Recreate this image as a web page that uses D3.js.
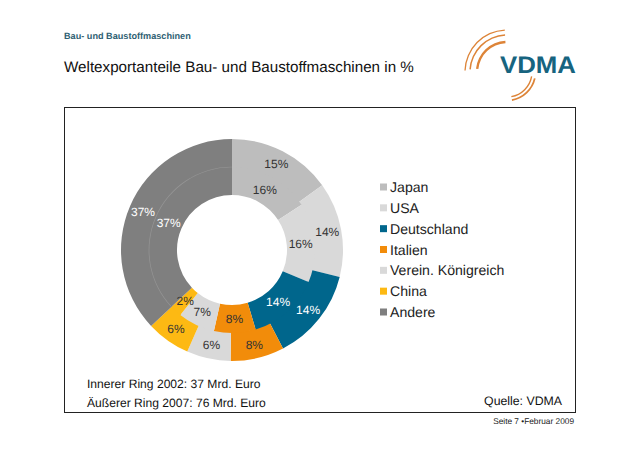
<!DOCTYPE html>
<meta charset="utf-8">
<style>
body {margin: 0; background: #fff; font-family: 'Liberation Sans', Arial, sans-serif;}
text {font-family: 'Liberation Sans', Arial, sans-serif; text-rendering: geometricPrecision;}
</style>
<body>
<svg class="chart"></svg>
</body>
<script src="https://d3js.org/d3.v7.min.js"></script>
<script>
// Data
const categories = ['Japan', 'USA', 'Deutschland', 'Italien', 'Verein. Königreich', 'China', 'Andere'];
const outer2007 = [15.1, 13.8, 13.5, 7.8, 6.4, 6.4, 37.0];
const inner2002 = [15.8, 15.5, 14.1, 8.1, 7.2, 2.3, 37.0];
const colorCode = ['#bdbdbd', '#d9d9d9', '#00668c', '#f28c0a', '#d9d9d9', '#fdb913', '#7f7f7f'];
const labelColor = ['#333', '#333', '#fff', '#333', '#333', '#333', '#fff'];

const rwidth = 640, rheight = 452;
const cx = 232, cy = 250;
const rHole = 55, rMid = 83, rOuter = 111;

const svg = d3.select('.chart').attr('width', rwidth).attr('height', rheight).style('display', 'block');

const color = d3.scaleOrdinal().domain(categories).range(colorCode);
const textColor = d3.scaleOrdinal().domain(categories).range(labelColor);

// header
svg.append('text').attr('x', 64).attr('y', 39).attr('font-size', 9.15).attr('font-weight', 'bold')
  .attr('fill', '#2f5f73').text('Bau- und Baustoffmaschinen');
svg.append('text').attr('x', 64).attr('y', 72).attr('font-size', 15.2).attr('fill', '#111')
  .text('Weltexportanteile Bau- und Baustoffmaschinen in %');

// logo
const logo = svg.append('g').attr('transform', 'translate(507,72)');
const logoArcs = [
  {r: 42, a0: -88, a1: -3, w: 1.3},
  {r: 37, a0: -86, a1: -3, w: 1.5},
  {r: 30, a0: -84, a1: -3, w: 2.4},
  {r: 28.5, a0: 103, a1: 170, w: 1.8},
  {r: 25, a0: 100, a1: 170, w: 1.4}
];
const logoArc = d3.arc();
logo.selectAll('path').data(logoArcs).join('path')
  .attr('fill', '#dd8438')
  .attr('d', d => logoArc({
    innerRadius: d.r - d.w / 2, outerRadius: d.r + d.w / 2,
    startAngle: d.a0 * Math.PI / 180, endAngle: d.a1 * Math.PI / 180
  }));
svg.append('text').attr('x', 500).attr('y', 73).attr('font-size', 24).attr('font-weight', 'bold')
  .attr('fill', '#17647f').attr('textLength', 76).attr('lengthAdjust', 'spacingAndGlyphs').text('VDMA');

// frame
svg.append('rect').attr('x', 64.5).attr('y', 107.5).attr('width', 511).attr('height', 305)
  .attr('fill', 'none').attr('stroke', '#222').attr('stroke-width', 1);

// rings
const pie = d3.pie().sort(null).value(d => d.value);
const ring = svg.append('g').attr('transform', `translate(${cx},${cy})`);
const slices = ring.append('g');
const labels = ring.append('g');

function drawRing(values, r0, r1, rLabel0, rLabel1) {
  const arcs = pie(values.map((v, i) => ({name: categories[i], value: v})));
  const arc = d3.arc().innerRadius(r0).outerRadius(r1);
  const labelArc = d3.arc().innerRadius(rLabel0).outerRadius(rLabel1);
  slices.append('g').selectAll('path').data(arcs).join('path')
    .attr('d', arc)
    .attr('fill', d => color(d.data.name));
  labels.append('g').selectAll('text').data(arcs).join('text')
    .attr('transform', d => `translate(${labelArc.centroid(d)})`)
    .attr('text-anchor', 'middle')
    .attr('dy', '.35em')
    .attr('font-size', 12)
    .attr('fill', d => textColor(d.data.name))
    .text(d => Math.round(d.data.value) + '%');
  return arcs;
}

// outer ring runs a little under the inner one so no light seam shows
drawRing(outer2007, rMid - 1, rOuter, rMid, rOuter);
const innerArcs = drawRing(inner2002, rHole, rMid, rHole, rMid);

// the reference only shows a faint line on the grey slice
const seam = innerArcs[innerArcs.length - 1];
slices.append('path')
  .attr('d', d3.arc().innerRadius(rMid - 0.35).outerRadius(rMid + 0.35)(seam))
  .attr('fill', '#959595');

// legend
const ly = d3.scalePoint().domain(categories).range([187, 312]);
const legend = svg.append('g').selectAll('g').data(categories).join('g')
  .attr('transform', d => `translate(380,${ly(d)})`);
legend.append('rect').attr('x', 0).attr('y', -3.5).attr('width', 7).attr('height', 7)
  .attr('fill', d => color(d));
legend.append('text').attr('x', 10).attr('dy', '.36em').attr('font-size', 14.1).attr('fill', '#222').text(d => d);

// notes
svg.append('text').attr('x', 87).attr('y', 387.5).attr('font-size', 12.1).attr('fill', '#111')
  .text('Innerer Ring 2002: 37 Mrd. Euro');
svg.append('text').attr('x', 87).attr('y', 406.5).attr('font-size', 12.1).attr('fill', '#111')
  .text('Äußerer Ring 2007: 76 Mrd. Euro');
svg.append('text').attr('x', 562).attr('y', 405).attr('text-anchor', 'end').attr('font-size', 12.3).attr('fill', '#111')
  .text('Quelle: VDMA');
svg.append('text').attr('x', 574).attr('y', 424).attr('text-anchor', 'end').attr('font-size', 8.3).attr('fill', '#222')
  .text('Seite 7 •Februar 2009');
</script>
